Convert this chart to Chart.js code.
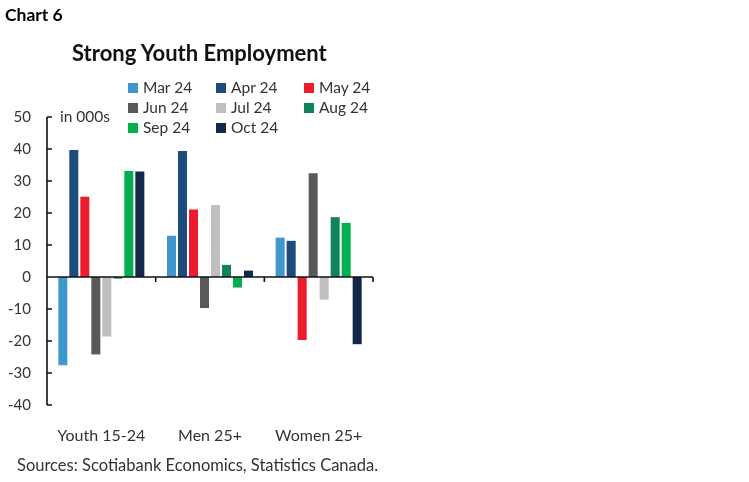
<!DOCTYPE html>
<html lang="en">
  <head>
    <meta charset="UTF-8" />
    <title>Strong Youth Employment</title>
    <style>
      body { margin: 0; background: #fff; font-family: "Lato", "Open Sans", sans-serif; color: #222; }
      #wrap { position: relative; width: 749px; height: 482px; }
      #myChart { position: absolute; left: 0; top: 0; }
      .lbl { position: absolute; white-space: nowrap; }
      #chartNo { left: 5px; top: 4px; font-weight: bold; font-size: 17.5px; color: #000; }
      #title { left: 72px; top: 39px; font-weight: bold; font-size: 22px; color: #111; }
      #unit { left: 60px; top: 107px; font-size: 15.5px; color: #333; }
      #source { left: 17px; top: 455px; font-size: 16.5px; color: #333; }
      #legend .item { position: absolute; font-size: 15.5px; color: #333; white-space: nowrap; }
      #legend .box { display: inline-block; width: 10px; height: 10px; margin-right: 5px; vertical-align: 0px; }
    </style>
  </head>
  <body>
    <div id="wrap">
      <canvas id="myChart" width="749" height="482"></canvas>
      <div class="lbl" id="chartNo">Chart 6</div>
      <div class="lbl" id="title">Strong Youth Employment</div>
      <div class="lbl" id="unit">in 000s</div>
      <div id="legend"></div>
      <div class="lbl" id="source">Sources: Scotiabank Economics, Statistics Canada.</div>
    </div>
    <script src="https://cdn.jsdelivr.net/npm/chart.js/dist/chart.umd.min.js"></script>
    <script>
      // categories and months
      const groups = ['Youth 15-24', 'Men 25+', 'Women 25+'];
      const months = ['Mar 24', 'Apr 24', 'May 24', 'Jun 24', 'Jul 24', 'Aug 24', 'Sep 24', 'Oct 24'];
      const colors = ['#3f97cc', '#1f4a7c', '#ec1c2e', '#595959', '#bfbfbf', '#0f8458', '#00b050', '#13294b'];

      // change in employment, thousands (one array per month: youth, men, women)
      const mar24 = [-27.6, 12.9, 12.3];
      const apr24 = [39.7, 39.4, 11.3];
      const may24 = [25.1, 21.1, -19.7];
      const jun24 = [-24.2, -9.7, 32.4];
      const jul24 = [-18.6, 22.5, -7.1];
      const aug24 = [-0.5, 3.8, 18.7];
      const sep24 = [33.1, -3.3, 16.9];
      const oct24 = [33.0, 2.0, -21.0];
      const series = [mar24, apr24, may24, jun24, jul24, aug24, sep24, oct24];

      const yTicks = [50, 40, 30, 20, 10, 0, -10, -20, -30, -40];

      const data = {
        labels: groups,
        datasets: months.map((m, i) => ({
          label: m,
          data: series[i],
          backgroundColor: colors[i],
          borderWidth: 0,
          categoryPercentage: 0.81,
          barPercentage: 0.82
        }))
      };

      // axis lines and little tick marks
      const axesPlugin = {
        id: 'axesLines',
        afterDatasetsDraw(chart) {
          const ctx = chart.ctx;
          const x = chart.scales.x;
          const y = chart.scales.y;
          const zero = y.getPixelForValue(0);
          ctx.save();
          ctx.strokeStyle = '#111';
          ctx.lineWidth = 1.6;
          ctx.beginPath();
          ctx.moveTo(x.left, zero);
          ctx.lineTo(x.right, zero);
          // category boundary ticks (downward)
          for (let i = 1; i <= groups.length; i++) {
            const px = x.left + (x.right - x.left) * i / groups.length;
            ctx.moveTo(px, zero);
            ctx.lineTo(px, zero + 5);
          }
          // y axis line
          ctx.moveTo(x.left, y.getPixelForValue(yTicks[0]));
          ctx.lineTo(x.left, y.getPixelForValue(yTicks[yTicks.length - 1]));
          yTicks.forEach(v => {
            const py = y.getPixelForValue(v);
            ctx.moveTo(x.left, py);
            ctx.lineTo(x.left + 5, py);
          });
          ctx.stroke();
          ctx.restore();
        }
      };

      const config = {
        type: 'bar',
        data,
        options: {
          responsive: false,
          animation: false,
          layout: { padding: { top: 117, right: 376, bottom: 0, left: 0 } },
          plugins: { legend: { display: false }, tooltip: { enabled: false } },
          scales: {
            x: {
              grid: { display: false },
              border: { display: false },
              ticks: { color: '#333', font: { family: 'Lato', size: 16 }, padding: 13, maxRotation: 0 },
              afterFit: s => { s.height = 77; }
            },
            y: {
              min: -40,
              max: 50,
              grid: { display: false, drawTicks: false },
              border: { display: false },
              ticks: { stepSize: 10, color: '#333', font: { family: 'Lato', size: 15 }, padding: 16 },
              afterFit: s => { s.width = 47; }
            }
          }
        },
        plugins: [axesPlugin]
      };

      const myChart = new Chart(document.getElementById('myChart'), config);

      // legend in three columns
      const legend = document.getElementById('legend');
      const colX = [128, 216, 304];
      const rowY = [78, 98, 118];
      months.forEach((m, i) => {
        const el = document.createElement('div');
        el.className = 'item';
        el.style.left = colX[i % 3] + 'px';
        el.style.top = rowY[Math.floor(i / 3)] + 'px';
        el.innerHTML = '<span class="box" style="background:' + colors[i] + '"></span>' + m;
        legend.appendChild(el);
      });
    </script>
  </body>
</html>
